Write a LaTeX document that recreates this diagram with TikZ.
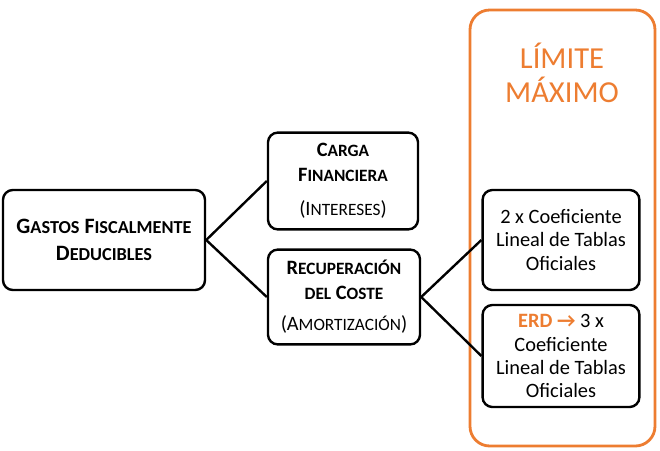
\documentclass[tikz,border=0pt]{standalone}
\usepackage{fontspec}
\setmainfont{Carlito}
\usepackage{tikz}
\usetikzlibrary{arrows.meta, positioning, calc}
\definecolor{OfficeOrange}{RGB}{237,125,49}
% versalitas simuladas (Carlito no trae smcp)
\newcommand{\pv}[1]{{\fontsize{12.3}{14}\selectfont\MakeUppercase{#1}}}

\begin{document}
\begin{tikzpicture}[
    x=0.025cm, y=-0.025cm,
    font=\fontsize{14.5}{16.4}\selectfont,
    caja/.style={draw=black, line width=1.7pt, rounded corners=7pt, fill=white,
        align=center, inner sep=2pt},
    enlace/.style={draw=black, line width=1.7pt},
    marco/.style={draw=OfficeOrange, line width=2pt, rounded corners=14pt},
]
\useasboundingbox (0,0) rectangle (660,450);

% ===== marco limite =====
\draw[marco] (470,10) rectangle (655,446);
\node[text=OfficeOrange, font=\fontsize{21.7}{24.3}\selectfont, align=center] (tit) at (562,73)
    {LÍMITE\\MÁXIMO};

% ===== cajas =====
\node[caja, minimum width=5.05cm, minimum height=2.5cm,
      font=\fontsize{15.6}{17}\selectfont] (gastos) at (104,240)
    {\bfseries G{\fontsize{13}{14}\selectfont ASTOS} F{\fontsize{13}{14}\selectfont ISCALMENTE}\\[2pt]%
     \bfseries D{\fontsize{13}{14}\selectfont EDUCIBLES}};
\node[caja, minimum width=3.75cm, minimum height=2.42cm] (carga) at (343,181)
    {\bfseries C\pv{arga}\\[1pt]\bfseries F\pv{inanciera}\\[8pt](I\pv{ntereses})};
\node[caja, minimum width=3.8cm, minimum height=2.37cm] (recup) at (344,297)
    {\bfseries R\pv{ecuperación}\\[1pt]\bfseries \pv{del} C\pv{oste}\\[6pt](A\pv{mortización})};
\node[caja, minimum width=3.92cm, minimum height=2.5cm] (dosx) at (561,240)
    {2 x Coeficiente\\Lineal de Tablas\\Oficiales};
\node[caja, minimum width=3.92cm, minimum height=2.55cm] (erd) at (561,356)
    {{\color{OfficeOrange}\bfseries ERD →} 3 x\\Coeficiente\\Lineal de Tablas\\Oficiales};

% ===== conectores =====
\draw[enlace] (gastos.east) -- (carga.west);
\draw[enlace] (gastos.east) -- (recup.west);
\draw[enlace] (recup.east) -- (dosx.west);
\draw[enlace] (recup.east) -- (erd.west);

\end{tikzpicture}
\end{document}
